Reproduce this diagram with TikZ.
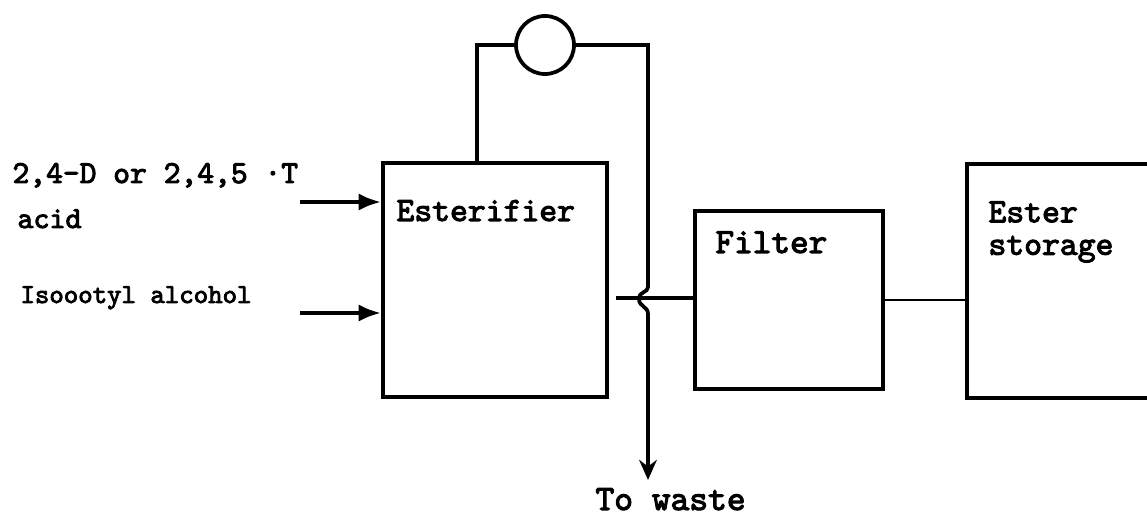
\documentclass[tikz,border=0pt]{standalone}
\usepackage{fontspec}
\newfontfamily\typer{lmmono10-regular.otf}[FakeBold=3]
\usepackage{tikz}
\usetikzlibrary{positioning,arrows.meta}

\begin{document}
\begin{tikzpicture}[x=0.4pt, y=-0.4pt,
  unit/.style={draw, line width=1.6pt, minimum width=#1, inner sep=0pt},
  pipe/.style={line width=1.5pt},
  feed/.style={line width=1.6pt, -{Latex[length=9pt,width=7pt]}},
  tag/.style={inner sep=0pt, font=\typer\fontsize{13.6}{13}\selectfont}]
\useasboundingbox (0,0) rectangle (1147,532);
\clip (0,0) rectangle (1147,532);

% units
\node[unit=89.6pt, minimum height=93.6pt] (ester) at (495,280) {};
\node[unit=75.2pt, minimum height=71.2pt] (filter) at (789,300) {};
\node[unit=113.2pt, minimum height=93.6pt] (store) at (1108.5,281) {};
\node[draw, circle, line width=1.5pt, minimum size=23.2pt, inner sep=0pt] (pump) at (545,45) {};

% labels
\node[tag, anchor=base west] (esterlbl) at (396,221) {Esterifier};
\node[tag, anchor=base west, font=\typer\fontsize{14.2}{13}\selectfont] (filterlbl) at (715,253) {Filter};
\node[tag, anchor=north west, align=left] (storelbl) at (988,201) {Ester\\storage};
\node[tag, anchor=base west, font=\typer\fontsize{12.8}{13}\selectfont] (acidlbl) at (12,183) {2,4-D or 2,4,5 ·T};
\node[tag, anchor=base west, font=\typer\fontsize{12.2}{13}\selectfont] (acidlbl2) at (17,228) {acid};
\node[tag, anchor=base west, font=\typer\fontsize{11}{13}\selectfont] (alcolbl) at (20,303) {Isoootyl alcohol};
\node[tag, anchor=base west, font=\typer\fontsize{14.3}{13}\selectfont] (wastelbl) at (595,510) {To waste};

% feeds
\coordinate (acidin) at (300,202);
\coordinate (alcoin) at (300,313);
\draw[feed] (acidin) -- (acidin -| ester.west);
\draw[feed] (alcoin) -- (alcoin -| ester.west);

% recycle loop and waste line
\coordinate (up) at (477,45);
\coordinate (turn) at (648,45);
\coordinate (drain) at (648,480);
\draw[pipe] (ester.north -| up) -- (up) -- (pump.west);
\draw[pipe, -{Stealth[length=8pt,width=7pt]}] (pump.east) -- (turn) -- (648,287)
  .. controls (648,293) and (639,291) .. (639,299)
  .. controls (639,307) and (648,306) .. (648,314) -- (drain);

% product line
\coordinate (tap) at (616,298);
\draw[pipe] (tap) -- (tap -| filter.west);
\draw[line width=1.1pt] (filter.east) -- (filter.east -| store.west);
\end{tikzpicture}
\end{document}
